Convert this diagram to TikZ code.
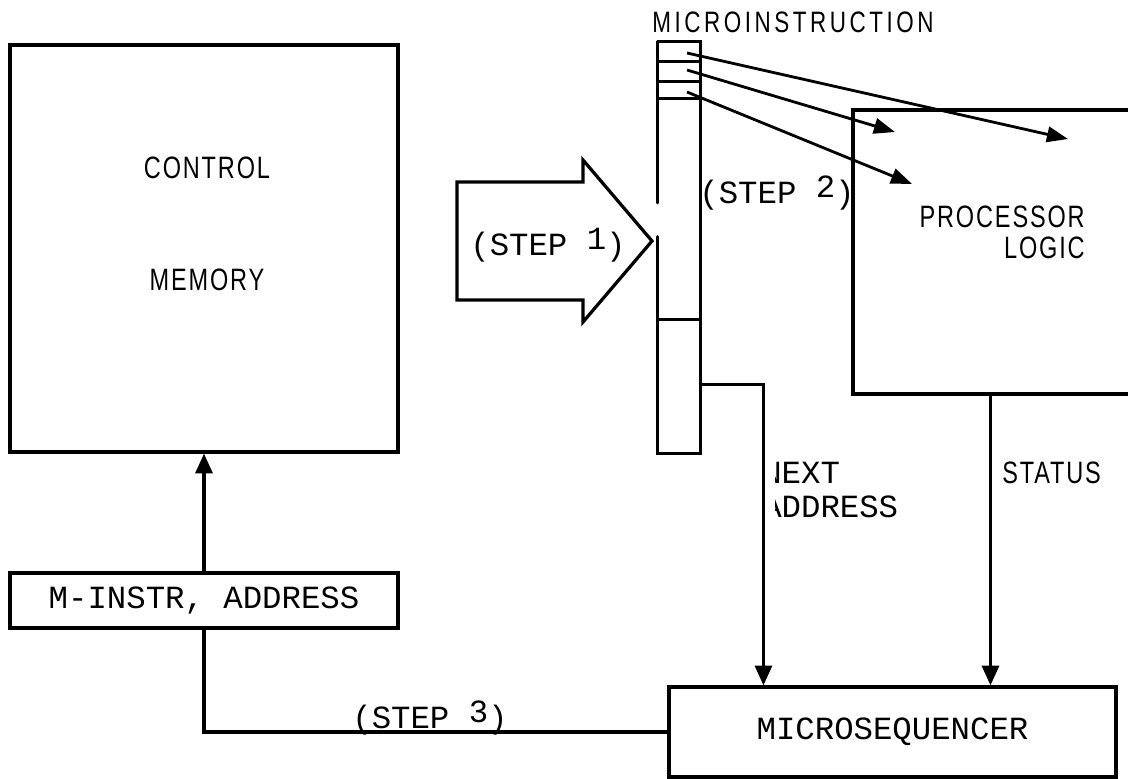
\documentclass[tikz,border=0pt]{standalone}
\usepackage{fontspec}
\setmainfont{Liberation Sans}
\newfontfamily\labfont[FakeStretch=0.76,LetterSpace=6]{Liberation Sans}
\newfontfamily\typefont{Liberation Mono}
\usetikzlibrary{arrows.meta,positioning,calc}
\tikzset{
  unit/.style ={draw,line width=2.3pt,inner sep=0pt},
  lab/.style  ={inner sep=0pt,font=\labfont\fontsize{22pt}{25pt}\selectfont},
  tlab/.style ={inner sep=0pt,font=\typefont\fontsize{23pt}{26pt}\selectfont},
  wire/.style ={line width=2.3pt,line cap=round},
  feed/.style ={-{Triangle[length=14pt,width=12pt]},line width=2.3pt},
  field/.style={-{Triangle[length=15pt,width=11pt]},line width=2pt}
}
\newcommand{\stepno}[1]{(STEP \raisebox{4pt}{#1})}

\begin{document}
\begin{tikzpicture}[x=0.025cm,y=-0.025cm]
  \useasboundingbox (0,0) rectangle (1128,778);
  \node[unit,minimum width=9.7cm,minimum height=10.17cm] (ctrl) at (204,248.5) {};
  \node[lab] (ctrltop) at (207,168) {CONTROL};
  \node[lab] (ctrlbot) at (207,280) {MEMORY};
  \node[unit,tlab,minimum width=9.7cm,minimum height=1.37cm] (mia) at (204,600.5) {M-INSTR, ADDRESS};
  \node[minimum width=1.05cm,minimum height=10.27cm,inner sep=0pt] (reg) at (679,247.5) {};
  \node[lab,font=\labfont\fontsize{21pt}{24pt}\selectfont\addfontfeature{LetterSpace=12}] (mi) at (793,22) {MICROINSTRUCTION};
  \node[unit,minimum width=7.67cm,minimum height=7.1cm] (proc) at (1006.5,252) {};
  \node[lab,anchor=east] (proctop) at (1085,217) {PROCESSOR};
  \node[lab,anchor=east] (procbot) at (1085,248) {LOGIC};
  \node[unit,tlab,minimum width=11.17cm,minimum height=2.25cm] (mseq) at (892.5,732) {MICROSEQUENCER};

  \draw[wire] (reg.north west) -- ++(0,161);
  \draw[wire] ($(reg.north west)+(0,195)$) -- (reg.south west) -- (reg.south east)
              -- (reg.north east) -- (reg.north west);
  \foreach \y in {20,40,57,278}
    \draw[wire] ($(reg.north west)+(0,\y)$) -- ++(42,0);

  \draw[wire,line join=miter] (457,182) -- (583,182) -- (583,160) -- (652,241)
              -- (583,322) -- (583,300) -- (457,300) -- cycle;
  \node[tlab] (s1) at (548,245) {\stepno{1}};

  \coordinate (f1) at (687,53);
  \coordinate (f2) at (687,70);
  \coordinate (f3) at (687,92);
  \coordinate (t1) at (1068,139);
  \coordinate (t2) at (895,132);
  \coordinate (t3) at (912,184);
  \draw[field] (f1) -- (t1);
  \draw[field] (f2) -- (t2);
  \draw[field] (f3) -- (t3);
  \node[tlab] (s2) at (777,193) {\stepno{2}};

  \draw[feed] (mia.north) -- (ctrl.south);
  \draw[wire] (mia.south) |- (mseq.west);
  \node[tlab] (s3) at (430,718) {\stepno{3}};

  \coordinate (tap) at ($(reg.north east)+(0,343)$);
  \draw[feed] (tap) -| ([xshift=2.4cm]mseq.north west);
  \begin{scope}
    \clip (775,440) rectangle (920,530);
    \node[tlab,anchor=west] (nxt) at (762,473) {NEXT};
    \node[tlab,anchor=west] (adr) at (762,507) {ADDRESS};
  \end{scope}

  \draw[feed] ([xshift=3.475cm]proc.south west) -- ([xshift=3.475cm]proc.south west |- mseq.north);
  \node[lab,anchor=west] (st) at (1002,473) {STATUS};
\end{tikzpicture}
\end{document}
